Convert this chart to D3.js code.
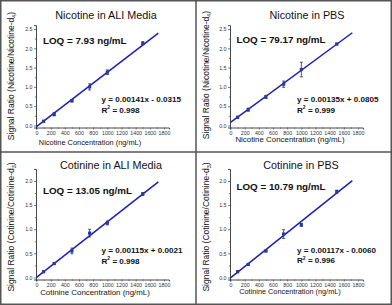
<!DOCTYPE html>
<html>
<head>
<meta charset="utf-8">
<script src="https://cdn.jsdelivr.net/npm/d3@7"></script>
<style>
  body { margin: 0; background: #fff; }
  svg { display: block; font-family: "Liberation Sans", Arial, sans-serif; }
</style>
</head>
<body>
<div id="chart"></div>
<script>
// data
var titles = ["Nicotine in ALI Media", "Nicotine in PBS", "Cotinine in ALI Media", "Cotinine in PBS"];
var analytes = ["Nicotine", "Nicotine", "Cotinine", "Cotinine"];
var isotopes = ["4", "4", "3", "3"];
var loqs = ["7.93", "79.17", "13.05", "10.79"];
var equations = ["y = 0.00141x - 0.0315", "y = 0.00135x + 0.0805", "y = 0.00115x + 0.0021", "y = 0.00117x - 0.0060"];
var r2s = ["0.998", "0.999", "0.998", "0.996"];
var slopes = [0.00141, 0.00135, 0.00115, 0.00117];
var intercepts = [-0.0315, 0.0805, 0.0021, -0.0060];
var concentrations = [100, 250, 500, 750, 1000, 1500];
var ratios = [
    [0.11, 0.29, 0.64, 1.00, 1.38, 2.13],
    [0.21, 0.41, 0.74, 1.07, 1.45, 2.11],
    [0.12, 0.29, 0.55, 0.92, 1.13, 1.73],
    [0.12, 0.27, 0.55, 0.90, 1.09, 1.78]
];
var errors = [
    [0.02, 0.04, 0.03, 0.08, 0.06, 0.04],
    [0.03, 0.04, 0.04, 0.08, 0.19, 0.02],
    [0.02, 0.02, 0.06, 0.08, 0.04, 0.03],
    [0.02, 0.02, 0.02, 0.09, 0.03, 0.03]
];
var xTicks = [0, 200, 400, 600, 800, 1000, 1200, 1400, 1600, 1800];
var yTicks = [
    [0.0, 0.5, 1.0, 1.5, 2.0, 2.5],
    [0.0, 0.5, 1.0, 1.5, 2.0, 2.5],
    [0.0, 0.5, 1.0, 1.5, 2.0],
    [0.0, 0.5, 1.0, 1.5, 2.0]
];
var yMax = [2.6, 2.6, 2.25, 2.25];
var fitEnd = 1720;

// layout of each box
var layout = [
    {ox: 0, oy: 0, ax: 36.5, titleX: 106, titleY: 18.5, loqX: 43, loqY: 44, eqX: 101.5, eqY: 102, xlX: 90, xlY: 145, xlSize: 7.4, ylX: 13.5, ylY: 76},
    {ox: 196, oy: 0, ax: 34.5, titleX: 111, titleY: 18.5, loqX: 40.5, loqY: 42.5, eqX: 101, eqY: 102, xlX: 94, xlY: 142, xlSize: 7.9, ylX: 13, ylY: 75},
    {ox: 0, oy: 152, ax: 36.5, titleX: 111, titleY: 16.5, loqX: 43, loqY: 41.5, eqX: 101.5, eqY: 101, xlX: 95, xlY: 143, xlSize: 7.9, ylX: 13.5, ylY: 75},
    {ox: 196, oy: 152, ax: 34.5, titleX: 105, titleY: 16.5, loqX: 40.5, loqY: 37.5, eqX: 101, eqY: 100.5, xlX: 94, xlY: 141.5, xlSize: 7.3, ylX: 13, ylY: 75}
];

var W = 392, H = 305;
var blue = "#1c20bb";

var svg = d3.select("#chart")
    .append("svg")
    .attr("width", W)
    .attr("height", H);

titles.forEach(function (title, i) {
    var L = layout[i];
    var g = svg.append("g")
        .attr("transform", "translate(" + L.ox + "," + L.oy + ")");

    // scales: 0 -> axis, 1800 -> 127.5px right of it
    var x = d3.scaleLinear()
        .domain([0, 1800])
        .range([L.ax, L.ax + 127.5]);
    var top = yTicks[i][yTicks[i].length - 1];
    var y = d3.scaleLinear()
        .domain([0, top])
        .range([125.5, 29]);

    var xLo = x.invert(L.ax - 0.5), xHi = 1870;
    var yLo = y.invert(127.5), yHi = yMax[i];

    // x axis
    var xs = x.copy().domain([xLo, xHi]).range([x(xLo), x(xHi)]);
    g.append("g")
        .attr("transform", "translate(0," + y(yLo) + ")")
        .call(d3.axisBottom(xs).tickValues(xTicks).tickSize(2).tickPadding(1.5)
            .tickFormat(d3.format("d")));
    g.append("g")
        .attr("transform", "translate(0," + y(yLo) + ")")
        .call(d3.axisBottom(xs).tickValues(d3.range(100, 1800, 200)).tickSize(1.2).tickFormat(""))
        .select(".domain").remove();

    // y axis
    var ys = y.copy().domain([yLo, yHi]).range([y(yLo), y(yHi)]);
    g.append("g")
        .attr("transform", "translate(" + x(xLo) + ",0)")
        .call(d3.axisLeft(ys).tickValues(yTicks[i]).tickSize(2).tickPadding(1.5)
            .tickFormat(d3.format(".1f")));
    g.append("g")
        .attr("transform", "translate(" + x(xLo) + ",0)")
        .call(d3.axisLeft(ys).tickValues(d3.range(0.25, yHi, 0.5)).tickSize(1.2).tickFormat(""))
        .select(".domain").remove();

    g.selectAll(".domain").attr("stroke", "#333").attr("stroke-width", 0.9);
    g.selectAll(".tick line").attr("stroke", "#444").attr("stroke-width", 0.7);
    g.selectAll(".tick text")
        .attr("font-size", 5.3)
        .attr("fill", "#333")
        .style("font-family", "'Liberation Sans', Arial, sans-serif");

    // fitted line from the printed equation
    g.append("line")
        .attr("x1", x(0))
        .attr("y1", y(intercepts[i]))
        .attr("x2", x(fitEnd))
        .attr("y2", y(slopes[i] * fitEnd + intercepts[i]))
        .attr("stroke", blue)
        .attr("stroke-width", 1.5);

    var pts = concentrations.map(function (c, j) {
        return {x: c, y: ratios[i][j], e: errors[i][j]};
    });

    // error bars
    var eb = g.selectAll(".eb")
        .data(pts)
        .enter()
        .append("g")
        .attr("stroke", "#2a2a5a")
        .attr("stroke-width", 0.8);
    eb.append("line")
        .attr("x1", function (d) { return x(d.x); })
        .attr("x2", function (d) { return x(d.x); })
        .attr("y1", function (d) { return y(d.y - d.e); })
        .attr("y2", function (d) { return y(d.y + d.e); });
    eb.append("line")
        .attr("x1", function (d) { return x(d.x) - 1.5; })
        .attr("x2", function (d) { return x(d.x) + 1.5; })
        .attr("y1", function (d) { return y(d.y - d.e); })
        .attr("y2", function (d) { return y(d.y - d.e); });
    eb.append("line")
        .attr("x1", function (d) { return x(d.x) - 1.5; })
        .attr("x2", function (d) { return x(d.x) + 1.5; })
        .attr("y1", function (d) { return y(d.y + d.e); })
        .attr("y2", function (d) { return y(d.y + d.e); });

    // markers
    g.selectAll(".pt")
        .data(pts)
        .enter()
        .append("rect")
        .attr("x", function (d) { return x(d.x) - 1.6; })
        .attr("y", function (d) { return y(d.y) - 1.6; })
        .attr("width", 3.2)
        .attr("height", 3.2)
        .attr("fill", "#2b3a9e");

    // title
    g.append("text")
        .attr("x", L.titleX)
        .attr("y", L.titleY)
        .attr("text-anchor", "middle")
        .attr("font-size", 10.8)
        .attr("fill", "#111")
        .text(title);

    // LOQ
    g.append("text")
        .attr("x", L.loqX)
        .attr("y", L.loqY)
        .attr("font-size", 9.8)
        .attr("font-weight", "bold")
        .attr("fill", "#111")
        .text("LOQ = " + loqs[i] + " ng/mL");

    // equation + R2
    g.append("text")
        .attr("x", L.eqX)
        .attr("y", L.eqY)
        .attr("font-size", 8.1)
        .attr("font-weight", "bold")
        .attr("fill", "#111")
        .text(equations[i]);
    var r2 = g.append("text")
        .attr("x", L.eqX)
        .attr("y", L.eqY + 10.5)
        .attr("font-size", 8.1)
        .attr("font-weight", "bold")
        .attr("fill", "#111");
    r2.append("tspan").text("R");
    r2.append("tspan").attr("font-size", 5).attr("dy", -3.5).text("2");
    r2.append("tspan").attr("dy", 3.5).text(" = " + r2s[i]);

    // axis titles
    g.append("text")
        .attr("x", L.xlX)
        .attr("y", L.xlY)
        .attr("text-anchor", "middle")
        .attr("font-size", L.xlSize)
        .attr("fill", "#111")
        .text(analytes[i] + " Concentration (ng/mL)");

    var yl = g.append("text")
        .attr("transform", "translate(" + L.ylX + "," + L.ylY + ") rotate(-90)")
        .attr("text-anchor", "middle")
        .attr("font-size", 8.5)
        .attr("fill", "#111");
    yl.append("tspan").text("Signal Ratio (" + analytes[i] + "/" + analytes[i] + "-d");
    yl.append("tspan").attr("font-size", 5.5).attr("dy", 2).text(isotopes[i]);
    yl.append("tspan").attr("dy", -2).text(")");
});

// box borders
svg.append("rect")
    .attr("x", 0.75).attr("y", 0.75)
    .attr("width", W - 1.5).attr("height", H - 1.5)
    .attr("fill", "none")
    .attr("stroke", "#555")
    .attr("stroke-width", 1.5);
svg.append("line")
    .attr("x1", 196).attr("x2", 196).attr("y1", 0).attr("y2", H)
    .attr("stroke", "#555").attr("stroke-width", 1.5);
svg.append("line")
    .attr("x1", 0).attr("x2", W).attr("y1", 152).attr("y2", 152)
    .attr("stroke", "#555").attr("stroke-width", 1.5);
</script>
</body>
</html>
